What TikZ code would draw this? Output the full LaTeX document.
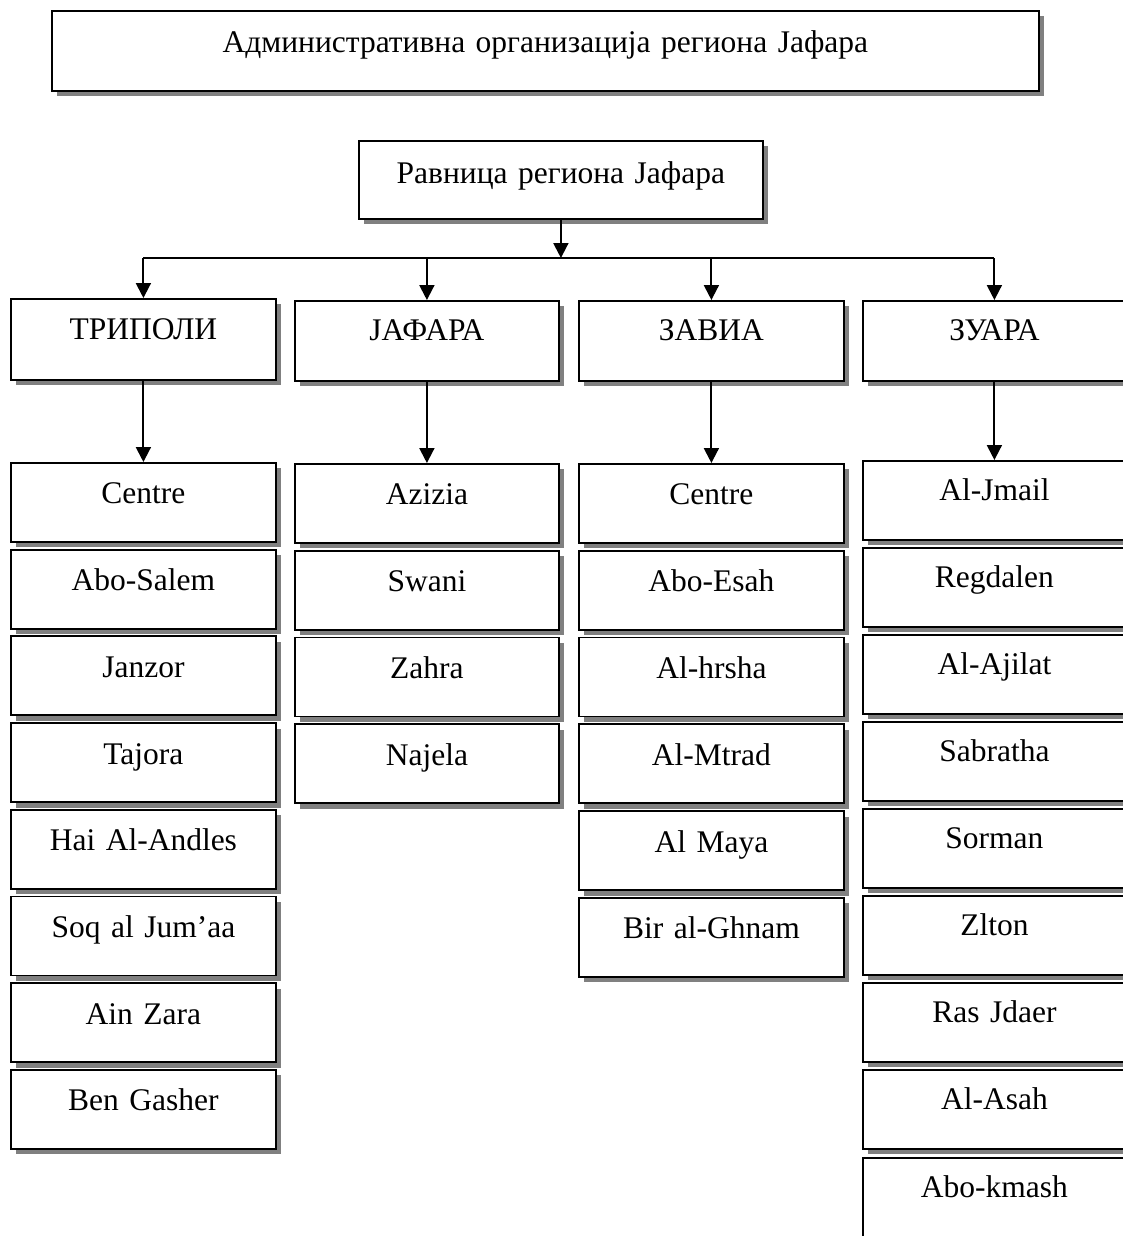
\documentclass[tikz,border=0pt]{standalone}
\usepackage{fontspec}
\setmainfont{Liberation Serif}
\usetikzlibrary{shadows,arrows.meta}
\definecolor{shadowgray}{HTML}{808080}
\tikzset{
  box/.style={draw, line width=1.8pt, fill=white, inner sep=0pt, anchor=north west,
    align=center, text height=41pt, text depth=38pt,
    drop shadow={shadow xshift=5.5pt, shadow yshift=-5.5pt, fill=shadowgray, opacity=1},
    font=\fontsize{31.5}{37}\selectfont},
  plainline/.style={line width=2pt},
  arr/.style={line width=2pt, -{Triangle[width=15pt,length=15pt]}}
}
\begin{document}
\begin{tikzpicture}[x=1pt,y=-1pt]
\useasboundingbox (0,0) rectangle (1123,1236);
\clip (0,0) rectangle (1123,1236);
% title
\node[box, text width=987pt, text height=42pt, text depth=38pt] (title) at (51,10)
  {Административна организација региона Јафара};
% root
\node[box, text width=404pt, text height=43pt, text depth=35pt] (root) at (358,140)
  {Равница региона Јафара};
% level 2
\node[box, text width=265pt, text height=41pt, text depth=40pt] (l1) at (10,298) {ТРИПОЛИ};
\node[box, text width=264pt, text height=40pt, text depth=40pt] (l2) at (294,300) {ЈАФАРА};
\node[box, text width=265pt, text height=40pt, text depth=40pt] (l3) at (578,300) {ЗАВИА};
\node[box, text width=263pt, text height=40pt, text depth=40pt] (l4) at (862,300) {ЗУАРА};
% children
\foreach \t [count=\i from 0] in {Centre,Abo-Salem,Janzor,Tajora,Hai Al-Andles,Soq al Jum’aa,Ain Zara,Ben Gasher}
  \node[box, text width=265pt] (a\i) at (10,462+86.7*\i) {\t};
\foreach \t [count=\i from 0] in {Azizia,Swani,Zahra,Najela}
  \node[box, text width=264pt] (b\i) at (294,463+86.8*\i) {\t};
\foreach \t [count=\i from 0] in {Centre,Abo-Esah,Al-hrsha,Al-Mtrad,Al Maya,Bir al-Ghnam}
  \node[box, text width=265pt] (c\i) at (578,463+86.8*\i) {\t};
\foreach \t [count=\i from 0] in {Al-Jmail,Regdalen,Al-Ajilat,Sabratha,Sorman,Zlton,Ras Jdaer,Al-Asah}
  \node[box, text width=263pt, text height=40pt, text depth=39pt] (d\i) at (862,460+87*\i) {\t};
\node[box, text width=263pt, text height=40pt, text depth=42pt] (d8) at (862,1157) {Abo-kmash};
% connectors
\coordinate (bus) at (560,258);
\draw[plainline] (l1.north |- bus) -- (l4.north |- bus);
\draw[arr] (root.south) -- (root.south |- bus);
\foreach \n in {l1,l2,l3,l4}
  \draw[arr] (\n.north |- bus) -- (\n.north);
\draw[arr] (l1.south) -- (a0.north);
\draw[arr] (l2.south) -- (b0.north);
\draw[arr] (l3.south) -- (c0.north);
\draw[arr] (l4.south) -- (d0.north);
\end{tikzpicture}
\end{document}
